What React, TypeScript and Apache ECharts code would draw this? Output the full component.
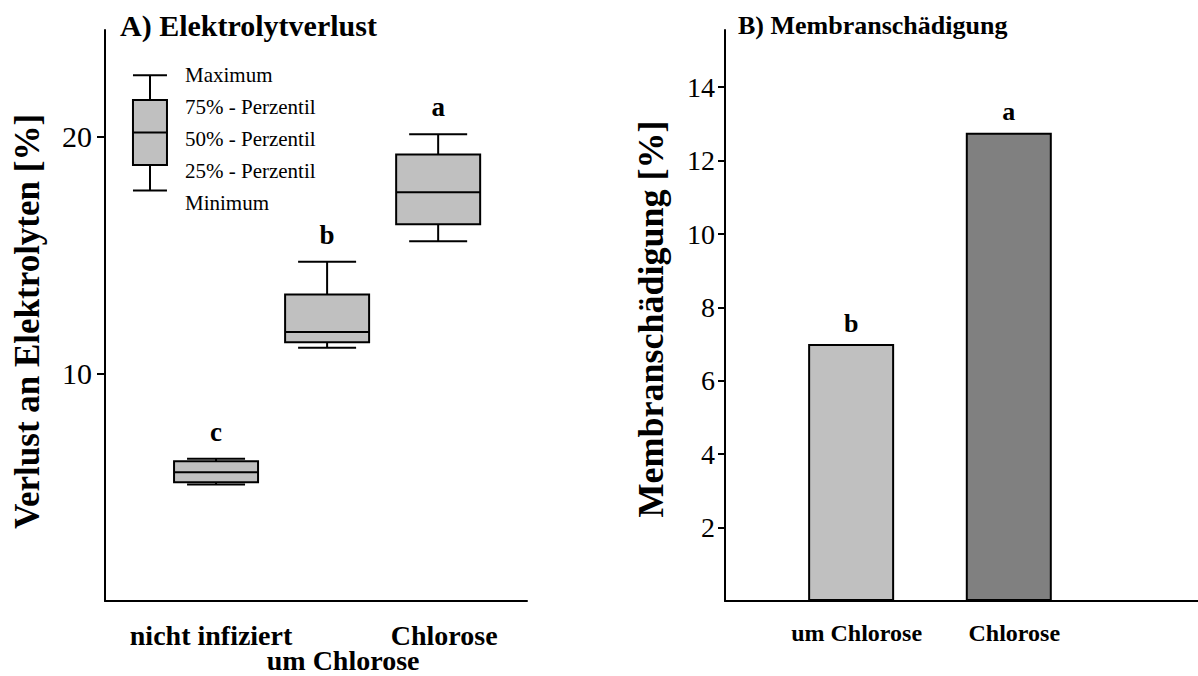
import React, { useEffect, useRef } from 'react';
import * as echarts from 'echarts';

// ---- Panel A: box plot data ----
const boxCategories = ['nicht infiziert', 'um Chlorose', 'Chlorose'];
const boxMin = [5.32, 11.09, 15.58];
const boxQ1 = [5.41, 11.32, 16.3];
const boxMedian = [5.83, 11.75, 17.65];
const boxQ3 = [6.3, 13.34, 19.25];
const boxMax = [6.4, 14.72, 20.1];
const boxLetters = ['c', 'b', 'a'];
const leftTicks = [10, 20];

// legend example box: min, q1, median, q3, max
const legendValues = [17.73, 18.8, 20.17, 21.55, 22.59];
const legendLabels = ['Maximum', '75% - Perzentil', '50% - Perzentil', '25% - Perzentil', 'Minimum'];

// ---- Panel B: bar data ----
const barCategories = ['um Chlorose', 'Chlorose'];
const barValues = [7.0, 12.76];
const barLetters = ['b', 'a'];
const rightTicks = [2, 4, 6, 8, 10, 12, 14];

const FONT = 'Liberation Serif, Times New Roman, serif';
const barColors = ['#c0c0c0', '#808080'];

export default function App() {
  const ref = useRef<HTMLDivElement>(null);
  useEffect(() => {
    document.body.style.margin = '0';
    const chart = echarts.init(ref.current!, null, { renderer: 'svg' });
    const ls = { stroke: '#000', lineWidth: 2 };

    const boxData = boxCategories.map((_, i) => [i + 1, boxMin[i], boxQ1[i], boxMedian[i], boxQ3[i], boxMax[i]]);
    const lbl = (pad: number[], size: number, lh: number) => ({
      fontFamily: FONT, fontWeight: 'bold', fontSize: size, color: '#000', padding: pad, lineHeight: lh,
    });

    const option: any = {
      animation: false,
      backgroundColor: '#fff',
      title: [
        { text: 'A) Elektrolytverlust', left: 120, top: 10, padding: 0,
          textStyle: { fontFamily: FONT, fontWeight: 'bold', fontSize: 30, color: '#000', lineHeight: 30 } },
        { text: 'B) Membranschädigung', left: 738, top: 11, padding: 0,
          textStyle: { fontFamily: FONT, fontWeight: 'bold', fontSize: 26, color: '#000', lineHeight: 28 } },
      ],
      grid: [
        { left: 105, top: 30, width: 422, height: 571, outerBoundsMode: 'none', containLabel: false },
        { left: 725, top: 30, width: 473, height: 571, outerBoundsMode: 'none', containLabel: false },
      ],
      xAxis: [
        {
          type: 'value', gridIndex: 0, min: 0, max: 3.8,
          axisLine: { show: true, lineStyle: { color: '#000', width: 2 } },
          axisTick: { show: false }, splitLine: { show: false },
          axisLabel: {
            customValues: [1, 3], margin: 19,
            fontFamily: FONT, fontWeight: 'bold', fontSize: 28, color: '#000', lineHeight: 31,
            formatter: (v: number) => {
              const i = Math.round(v) - 1;
              if (i === 0) return '{l|' + boxCategories[0] + '}';
              if (i === 2) return '{r|' + boxCategories[2] + '}';
              return '';
            },
            rich: {
              l: lbl([0, 10, 0, 0], 28, 31),
              r: lbl([0, 0, 0, 12], 28, 31),
            },
          },
        },
        {
          type: 'value', gridIndex: 1, min: 0.2, max: 3.2,
          axisLine: { show: true, lineStyle: { color: '#000', width: 2 } },
          axisTick: { show: false }, splitLine: { show: false },
          axisLabel: {
            customValues: [1, 2], margin: 18,
            fontFamily: FONT, fontWeight: 'bold', fontSize: 24, color: '#000', lineHeight: 27,
            formatter: (v: number) => '{r|' + (barCategories[Math.round(v) - 1] || '') + '}',
            rich: { r: lbl([0, 0, 0, 11], 24, 27) },
          },
        },
        {
          // second label row of panel A (staggered middle category)
          type: 'value', gridIndex: 0, min: 0, max: 3.8, position: 'bottom',
          axisLine: { show: false }, axisTick: { show: false }, splitLine: { show: false },
          axisLabel: {
            customValues: [2], margin: 47,
            fontFamily: FONT, fontWeight: 'bold', fontSize: 28, color: '#000', lineHeight: 24,
            formatter: (v: number) => '{m|' + (boxCategories[Math.round(v) - 1] || '') + '}',
            rich: { m: lbl([0, 0, 0, 32], 28, 24) },
          },
        },
      ],
      yAxis: [
        {
          type: 'value', gridIndex: 0, min: 0.4, max: 24.5,
          name: 'Verlust an Elektrolyten [%]', nameLocation: 'middle', nameRotate: 90, nameGap: 60,
          nameTextStyle: { fontFamily: FONT, fontWeight: 'bold', fontSize: 35, color: '#000', padding: [0, 12, 0, 0] },
          axisLine: { show: true, lineStyle: { color: '#000', width: 2 } },
          axisTick: { show: true, length: 8, customValues: leftTicks, lineStyle: { color: '#000', width: 2 } },
          splitLine: { show: false },
          axisLabel: { customValues: leftTicks, margin: 13, fontFamily: FONT, fontSize: 30, color: '#000' },
        },
        {
          type: 'value', gridIndex: 1, min: 0, max: 15.56,
          name: 'Membranschädigung [%]', nameLocation: 'middle', nameRotate: 90, nameGap: 56,
          nameTextStyle: { fontFamily: FONT, fontWeight: 'bold', fontSize: 36, color: '#000', padding: [0, 7, 0, 0] },
          axisLine: { show: true, lineStyle: { color: '#000', width: 2 } },
          axisTick: { show: true, length: 7, customValues: rightTicks, lineStyle: { color: '#000', width: 2 } },
          splitLine: { show: false },
          axisLabel: { customValues: rightTicks, margin: 10, fontFamily: FONT, fontSize: 28, color: '#000' },
        },
      ],
      series: [
        {
          type: 'custom', xAxisIndex: 0, yAxisIndex: 0,
          dimensions: ['x', 'min', 'q1', 'med', 'q3', 'max'],
          encode: { x: 0, y: [1, 2, 3, 4, 5] },
          data: boxData,
          renderItem: (params: any, api: any) => {
            const x = api.value(0);
            const cx = api.coord([x, api.value(1)])[0];
            const yMin = api.coord([x, api.value(1)])[1];
            const yQ1 = api.coord([x, api.value(2)])[1];
            const yMed = api.coord([x, api.value(3)])[1];
            const yQ3 = api.coord([x, api.value(4)])[1];
            const yMax = api.coord([x, api.value(5)])[1];
            const hw = 42, cw = 29;
            return {
              type: 'group',
              children: [
                { type: 'line', shape: { x1: cx, y1: yMax, x2: cx, y2: yQ3 }, style: ls },
                { type: 'line', shape: { x1: cx, y1: yQ1, x2: cx, y2: yMin }, style: ls },
                { type: 'line', shape: { x1: cx - cw, y1: yMax, x2: cx + cw, y2: yMax }, style: ls },
                { type: 'line', shape: { x1: cx - cw, y1: yMin, x2: cx + cw, y2: yMin }, style: ls },
                { type: 'rect', shape: { x: cx - hw, y: yQ3, width: 2 * hw, height: yQ1 - yQ3 },
                  style: { fill: '#c0c0c0', stroke: '#000', lineWidth: 2 } },
                { type: 'line', shape: { x1: cx - hw, y1: yMed, x2: cx + hw, y2: yMed }, style: ls },
                { type: 'text', x: cx, y: yMax - 27,
                  style: { text: boxLetters[params.dataIndex], font: `bold 27px ${FONT}`, fill: '#000',
                    align: 'center', verticalAlign: 'middle' } },
              ],
            };
          },
        },
        {
          type: 'custom', xAxisIndex: 0, yAxisIndex: 0,
          dimensions: ['x', 'min', 'q1', 'med', 'q3', 'max'],
          encode: { x: 0, y: [1, 2, 3, 4, 5] },
          data: [[0.405, ...legendValues]],
          renderItem: (params: any, api: any) => {
            const x = api.value(0);
            const cx = api.coord([x, api.value(1)])[0];
            const yMin = api.coord([x, api.value(1)])[1];
            const yQ1 = api.coord([x, api.value(2)])[1];
            const yMed = api.coord([x, api.value(3)])[1];
            const yQ3 = api.coord([x, api.value(4)])[1];
            const yMax = api.coord([x, api.value(5)])[1];
            const hw = 17;
            const children: any[] = [
              { type: 'line', shape: { x1: cx, y1: yMax, x2: cx, y2: yQ3 }, style: ls },
              { type: 'line', shape: { x1: cx, y1: yQ1, x2: cx, y2: yMin }, style: ls },
              { type: 'line', shape: { x1: cx - hw, y1: yMax, x2: cx + hw, y2: yMax }, style: ls },
              { type: 'line', shape: { x1: cx - hw, y1: yMin, x2: cx + hw, y2: yMin }, style: ls },
              { type: 'rect', shape: { x: cx - hw, y: yQ3, width: 2 * hw, height: yQ1 - yQ3 },
                style: { fill: '#c0c0c0', stroke: '#000', lineWidth: 2 } },
              { type: 'line', shape: { x1: cx - hw, y1: yMed, x2: cx + hw, y2: yMed }, style: ls },
            ];
            legendLabels.forEach((t, i) => {
              children.push({ type: 'text', x: cx + 35, y: yMax + i * 32,
                style: { text: t, font: `21px ${FONT}`, fill: '#000', align: 'left', verticalAlign: 'middle' } });
            });
            return { type: 'group', children };
          },
        },
        {
          type: 'bar', xAxisIndex: 1, yAxisIndex: 1, barWidth: 86,
          data: barValues.map((v, i) => ({ value: [i + 1, v], itemStyle: { color: barColors[i] } })),
          itemStyle: { borderColor: '#000', borderWidth: 2 },
          label: {
            show: true, position: 'top', distance: 8,
            formatter: (p: any) => barLetters[p.dataIndex],
            fontFamily: FONT, fontWeight: 'bold', fontSize: 26, color: '#000',
          },
        },
      ],
    };
    chart.setOption(option);
    return () => chart.dispose();
  }, []);
  return <div ref={ref} style={{ width: 1198, height: 676 }} />;
}
